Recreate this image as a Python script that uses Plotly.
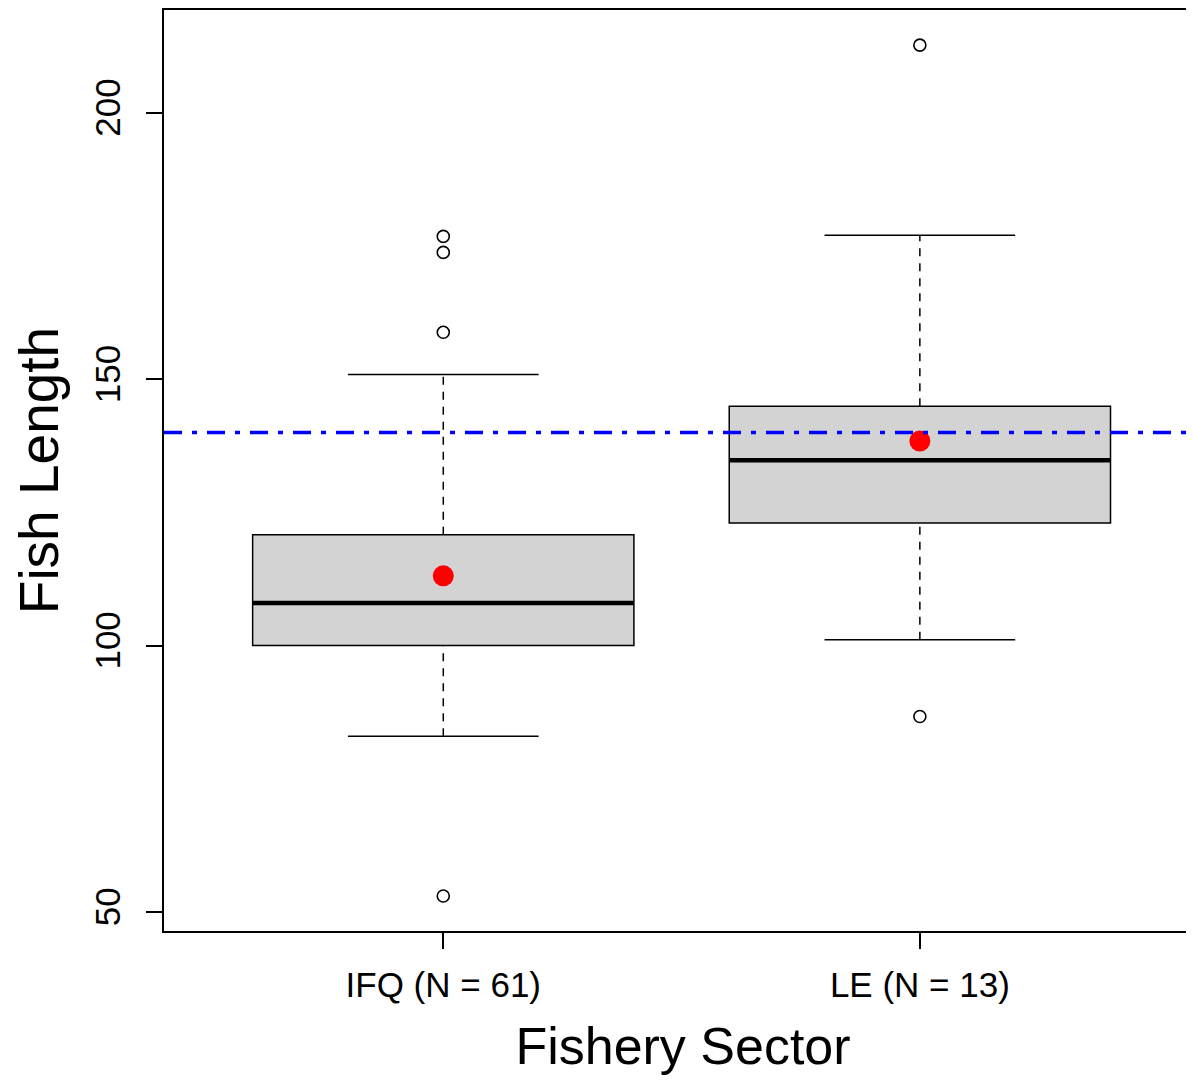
import plotly.graph_objects as go

# ---- data ----
categories = ["IFQ (N = 61)", "LE (N = 13)"]
positions = [1, 2]
q1 = [100.0, 123.0]
median = [108.0, 134.8]
q3 = [120.8, 144.9]
lower_whisker = [83.0, 101.1]
upper_whisker = [150.9, 177.0]
means = [113.1, 138.4]
outliers = [[176.8, 173.8, 158.8, 53.0], [212.7, 86.7]]
reference_line = 140.0
y_ticks = [50, 100, 150, 200]

box_half = 0.4
cap_half = 0.2

fig = go.Figure()
shapes = []
for x, a, m, b, lo, hi in zip(positions, q1, median, q3, lower_whisker, upper_whisker):
    # box
    shapes.append(dict(type="rect", xref="x", yref="y", x0=x - box_half, x1=x + box_half,
                       y0=a, y1=b, fillcolor="#D3D3D3", line=dict(color="black", width=1.5),
                       layer="below"))
    # whiskers
    shapes.append(dict(type="line", xref="x", yref="y", x0=x, x1=x, y0=b, y1=hi,
                       line=dict(color="black", width=1.5, dash="8px,7px")))
    shapes.append(dict(type="line", xref="x", yref="y", x0=x, x1=x, y0=lo, y1=a,
                       line=dict(color="black", width=1.5, dash="8px,7px")))
    # caps
    shapes.append(dict(type="line", xref="x", yref="y", x0=x - cap_half, x1=x + cap_half,
                       y0=hi, y1=hi, line=dict(color="black", width=1.5)))
    shapes.append(dict(type="line", xref="x", yref="y", x0=x - cap_half, x1=x + cap_half,
                       y0=lo, y1=lo, line=dict(color="black", width=1.5)))
    # median
    shapes.append(dict(type="line", xref="x", yref="y", x0=x - box_half, x1=x + box_half,
                       y0=m, y1=m, line=dict(color="black", width=4.5)))

# reference line
shapes.append(dict(type="line", xref="paper", yref="y", x0=0, x1=1,
                   y0=reference_line, y1=reference_line,
                   line=dict(color="blue", width=3.5, dash="18px,10px,5px,10px")))

for x, outs in zip(positions, outliers):
    fig.add_trace(go.Scatter(x=[x] * len(outs), y=outs, mode="markers",
                             marker=dict(symbol="circle-open", size=12, color="black",
                                         line=dict(width=1.6, color="black")),
                             showlegend=False, hoverinfo="skip"))

fig.add_trace(go.Scatter(x=positions, y=means, mode="markers",
                         marker=dict(symbol="circle", size=21, color="red"),
                         showlegend=False, hoverinfo="skip"))

font_family = "Liberation Sans, Arial, sans-serif"
fig.update_layout(
    width=1194, height=1074,
    margin=dict(l=156, r=0, t=0, b=151),
    paper_bgcolor="white", plot_bgcolor="white",
    shapes=shapes,
    font=dict(family=font_family, color="black"),
    showlegend=False,
)
fig.update_xaxes(
    range=[0.414, 2.592], tickvals=positions, ticktext=categories,
    showgrid=False, zeroline=False, showline=True, linecolor="black", linewidth=2,
    mirror=True, ticks="outside", ticklen=16, tickwidth=1.5, tickcolor="black",
    tickfont=dict(size=35, family=font_family), ticklabelstandoff=6,
    title=dict(text="Fishery Sector", font=dict(size=52, family=font_family), standoff=25),
)
fig.update_yaxes(
    range=[46.44, 219.29], tickvals=y_ticks, ticktext=[str(t) for t in y_ticks],
    showgrid=False, zeroline=False, showline=True, linecolor="black", linewidth=2,
    mirror=False, ticks="outside", ticklen=16, tickwidth=1.5, tickcolor="black",
    tickangle=-90, tickfont=dict(size=35, family=font_family), ticklabelstandoff=12,
    title=dict(text="Fish Length", font=dict(size=55, family=font_family), standoff=35),
)

fig.write_html("out.html")
